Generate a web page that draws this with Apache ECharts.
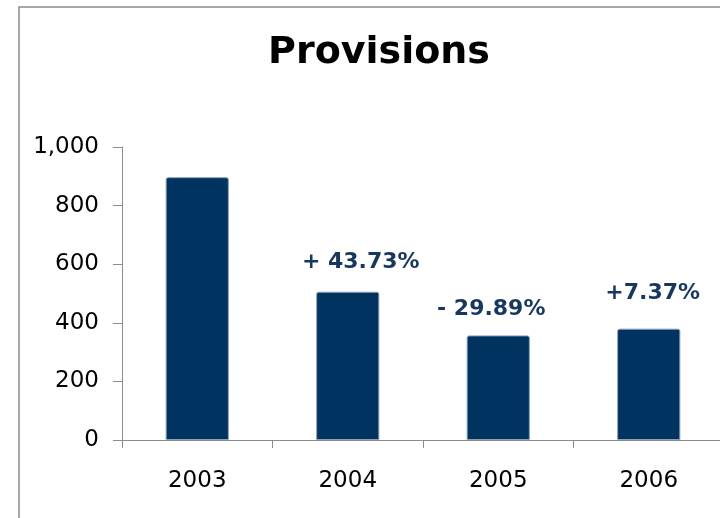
<!DOCTYPE html>
<html>
<head>
<meta charset="utf-8">
<script src="https://cdn.jsdelivr.net/npm/echarts@6/dist/echarts.min.js"></script>
<style>
html,body{margin:0;padding:0;background:#fff;}
#chart{width:720px;height:518px;}
</style>
</head>
<body>
<div id="chart"></div>
<script>
// ---- data ----
const titleText = 'Provisions';
const years = ['2003', '2004', '2005', '2006'];
const provisions = [897, 506, 357, 380];
const changeLabels = ['', '+ 43.73%', '- 29.89%', '+7.37%'];
const yTicks = [0, 200, 400, 600, 800, 1000];

// ---- styling / layout tweaks (not data) ----
const labelOffsets = [[0, 0], [13, 0], [-7, 3], [4, -6]];
const barColor = '#00335f';
const labelColor = '#17375e';
const axisColor = '#8c8c8c';

const chart = echarts.init(document.getElementById('chart'), null, {renderer: 'canvas'});

const seriesData = provisions.map((v, i) => ({
  value: v,
  label: {offset: labelOffsets[i]}
}));

chart.setOption({
  animation: false,
  backgroundColor: '#fff',
  title: {
    text: titleText,
    left: 374,
    top: 29,
    textAlign: 'center',
    textStyle: {
      fontFamily: 'DejaVu Sans',
      fontWeight: 'bold',
      fontSize: 38,
      color: '#000'
    }
  },
  graphic: [{
    type: 'rect',
    shape: {x: 19, y: 7, width: 760, height: 560},
    style: {fill: 'none', stroke: axisColor, lineWidth: 1.5},
    silent: true,
    z: -1
  }],
  grid: {
    left: 122,
    top: 147,
    width: 602,
    height: 293,
    containLabel: false,
    outerBoundsMode: 'none'
  },
  xAxis: {
    type: 'category',
    data: years,
    boundaryGap: true,
    axisLine: {lineStyle: {color: axisColor, width: 1}},
    axisTick: {show: true, length: 8, lineStyle: {color: axisColor}},
    axisLabel: {
      fontFamily: 'DejaVu Sans',
      fontSize: 23,
      color: '#000',
      margin: 30
    }
  },
  yAxis: {
    type: 'value',
    min: yTicks[0],
    max: yTicks[yTicks.length - 1],
    interval: yTicks[1] - yTicks[0],
    splitLine: {show: false},
    axisLine: {show: true, lineStyle: {color: axisColor, width: 1}},
    axisTick: {show: true, length: 9, lineStyle: {color: axisColor}},
    axisLabel: {
      fontFamily: 'DejaVu Sans',
      fontSize: 23,
      color: '#000',
      margin: 23,
      formatter: v => v.toLocaleString('en-US')
    }
  },
  series: [{
    type: 'bar',
    data: seriesData,
    barWidth: '42%',
    itemStyle: {
      color: barColor,
      borderColor: '#8fa0b8',
      borderWidth: 1,
      borderRadius: [2, 2, 0, 0]
    },
    label: {
      show: true,
      position: 'top',
      distance: 18,
      formatter: p => changeLabels[p.dataIndex],
      fontFamily: 'DejaVu Sans',
      fontWeight: 'bold',
      fontSize: 22,
      color: labelColor
    }
  }]
});
</script>
</body>
</html>
